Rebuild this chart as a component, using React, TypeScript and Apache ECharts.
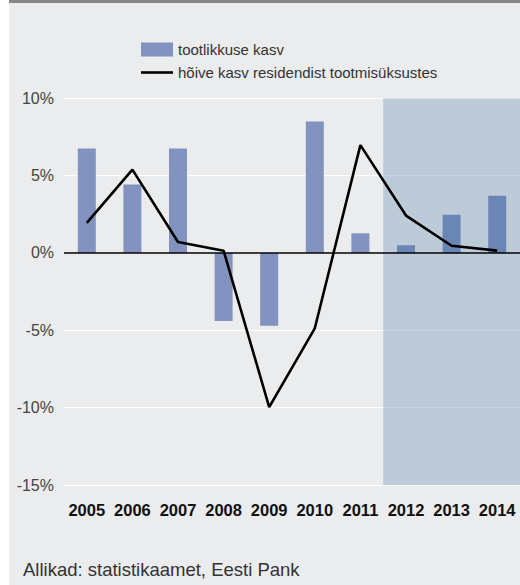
import React, { useEffect, useRef } from "react";
import * as echarts from "echarts";

const years = ["2005", "2006", "2007", "2008", "2009", "2010", "2011", "2012", "2013", "2014"];
const productivityGrowth = [6.75, 4.42, 6.75, -4.4, -4.7, 8.5, 1.27, 0.5, 2.47, 3.7];
const employmentGrowth = [1.95, 5.39, 0.71, 0.15, -9.96, -4.87, 6.97, 2.42, 0.47, 0.15];
const forecastStartIndex = 7;
const seriesNames = ["tootlikkuse kasv", "hõive kasv residendist tootmisüksustes"];
const sourceText = "Allikad: statistikaamet, Eesti Pank";

const FONT = "'Liberation Sans', Arial, Helvetica, sans-serif";

export default function App() {
  const ref = useRef<HTMLDivElement>(null);
  useEffect(() => {
    if (!ref.current) return;
    const chart = echarts.init(ref.current, undefined, { renderer: "svg" });
    chart.setOption({
      animation: false,
      backgroundColor: "#ebeced",
      textStyle: { fontFamily: FONT },
      graphic: [
        { type: "rect", left: 0, top: 0, shape: { width: 9, height: 585 }, style: { fill: "#ffffff" }, silent: true },
        { type: "rect", left: 9, top: 0, shape: { width: 511, height: 3 }, style: { fill: "#878787" }, silent: true },
        {
          type: "text",
          x: 23,
          y: 569,
          style: { text: sourceText, font: `18.5px ${FONT}`, fill: "#333333", textVerticalAlign: "middle", verticalAlign: "middle" },
        },
      ],
      legend: {
        orient: "vertical",
        left: 136,
        top: 37,
        itemWidth: 32,
        itemHeight: 14,
        itemGap: 8,
        textStyle: { fontSize: 15, color: "#333333", fontFamily: FONT },
        data: [
          { name: seriesNames[0], icon: "rect" },
          { name: seriesNames[1], icon: "path://M0 0 H32 V2.6 H0 Z", itemStyle: { color: "#000000" } },
        ],
      },
      grid: { left: 64, right: -2, top: 98.3, bottom: 100, containLabel: false },
      xAxis: [
        {
          type: "category",
          data: years,
          axisLine: { show: false },
          axisTick: { show: false },
          axisLabel: { interval: 0, fontSize: 16.5, fontWeight: "bold", color: "#111111", margin: 16, fontFamily: FONT },
        },
        { type: "value", min: 0, max: 10, show: false },
      ],
      yAxis: {
        type: "value",
        min: -15,
        max: 10,
        interval: 5,
        axisLine: { show: false },
        axisTick: { show: false },
        splitLine: { lineStyle: { color: "#ffffff", width: 1 } },
        axisLabel: { formatter: "{value}%", fontSize: 16, color: "#444444", margin: 10, fontFamily: FONT },
      },
      series: [
        {
          type: "line",
          xAxisIndex: 1,
          data: [[forecastStartIndex, null]],
          symbol: "none",
          silent: true,
          z: 1,
          markArea: {
            silent: true,
            itemStyle: { color: "rgba(143,170,195,0.5)" },
            data: [[{ coord: [forecastStartIndex, -15] }, { coord: [years.length, 10] }]],
          },
        },
        {
          name: seriesNames[0],
          type: "bar",
          barWidth: 18,
          z: 2,
          itemStyle: { color: "#8193be" },
          data: productivityGrowth.map((v, i) => ({
            value: v,
            itemStyle: { color: i >= forecastStartIndex ? "#6b86b4" : "#8193be" },
          })),
          markLine: {
            silent: true,
            symbol: "none",
            label: { show: false },
            lineStyle: { color: "#000000", width: 1.5, type: "solid" },
            data: [{ yAxis: 0 }],
          },
        },
        {
          name: seriesNames[1],
          type: "line",
          z: 3,
          symbol: "none",
          data: employmentGrowth,
          lineStyle: { color: "#000000", width: 2.6 },
          itemStyle: { color: "#000000" },
        },
      ],
    });
    return () => chart.dispose();
  }, []);
  return (
    <div style={{ position: "absolute", left: 0, top: 0, width: 520, height: 585, background: "#ffffff" }}>
      <div ref={ref} style={{ width: 520, height: 585 }} />
    </div>
  );
}
